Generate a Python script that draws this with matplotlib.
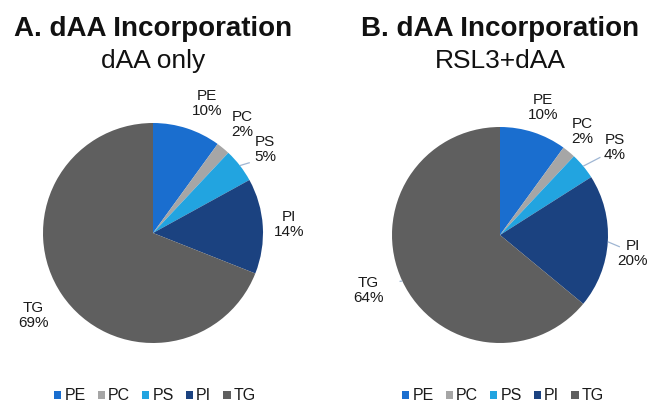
import numpy as np
import matplotlib.pyplot as plt
from matplotlib.patches import Patch

plt.rcParams["font.family"] = ["Liberation Sans", "DejaVu Sans"]

# lipid class shares of dAA incorporation (%)
classes = ["PE", "PC", "PS", "PI", "TG"]
daa_only = [10, 2, 5, 14, 69]
rsl3_daa = [10, 2, 4, 20, 64]
colors = ["#1a6ecf", "#a6a6a6", "#22a4e0", "#1b4280", "#5f5f5f"]

W, H = 654, 403
fig = plt.figure(figsize=(W / 100, H / 100), dpi=100)
fig.patch.set_facecolor("white")


def pie_axes(cx, cy, r):
    ax = fig.add_axes([(cx - r) / W, (H - cy - r) / H, 2 * r / W, 2 * r / H])
    return ax


def draw(ax, values, label_pos, leaders):
    wedges, _ = ax.pie(values, colors=colors, startangle=90, counterclock=False,
                       radius=1, wedgeprops=dict(linewidth=0))
    ax.set_xlim(-1, 1); ax.set_ylim(-1, 1)
    ax.set_aspect("equal"); ax.axis("off")
    for i, (w, v) in enumerate(zip(wedges, values)):
        lx, ly = label_pos[i]
        ax.text(lx, ly, f"{classes[i]}\n{v}%", ha="center", va="center",
                fontsize=11, color="#1a1a1a", linespacing=1.1)
        if leaders[i] is not None:
            mid = np.deg2rad((w.theta1 + w.theta2) / 2)
            ex, ey = np.cos(mid), np.sin(mid)
            tx, ty = leaders[i]
            ax.plot([ex, tx], [ey, ty], color="#9fb6d3", lw=0.9,
                    clip_on=False, solid_capstyle="butt")
    return wedges


axA = pie_axes(153, 233, 110)
draw(axA, daa_only,
     [(0.49, 1.18), (0.81, 0.99), (1.02, 0.76), (1.24, 0.08), (-1.09, -0.75)],
     [None, None, (0.88, 0.64), None, None])

axB = pie_axes(500, 235, 108)
draw(axB, rsl3_daa,
     [(0.40, 1.18), (0.76, 0.96), (1.06, 0.81), (1.23, -0.17), (-1.22, -0.51)],
     [None, None, (0.93, 0.72), (1.11, -0.11), (-0.93, -0.43)])

# titles
for cx, head, sub in [(153, "A. dAA Incorporation", "dAA only"),
                      (500, "B. dAA Incorporation", "RSL3+dAA")]:
    fig.text(cx / W, 1 - 36 / H, head, ha="center", va="baseline",
             fontsize=20, fontweight="bold", color="#111111")
    fig.text(cx / W, 1 - 68 / H, sub, ha="center", va="baseline",
             fontsize=19, color="#111111")

# legends below each pie
handles = [Patch(facecolor=c, edgecolor="none") for c in colors]
for cx in (155, 503):
    fig.legend(handles, classes, loc="center", bbox_to_anchor=(cx / W, 1 - 396 / H),
               ncol=5, frameon=False, fontsize=11.5, handlelength=0.45,
               handleheight=0.45, handletextpad=0.2, columnspacing=0.75,
               borderpad=0, labelcolor="#1a1a1a")

fig.savefig("out.png", dpi=100, facecolor="white")
